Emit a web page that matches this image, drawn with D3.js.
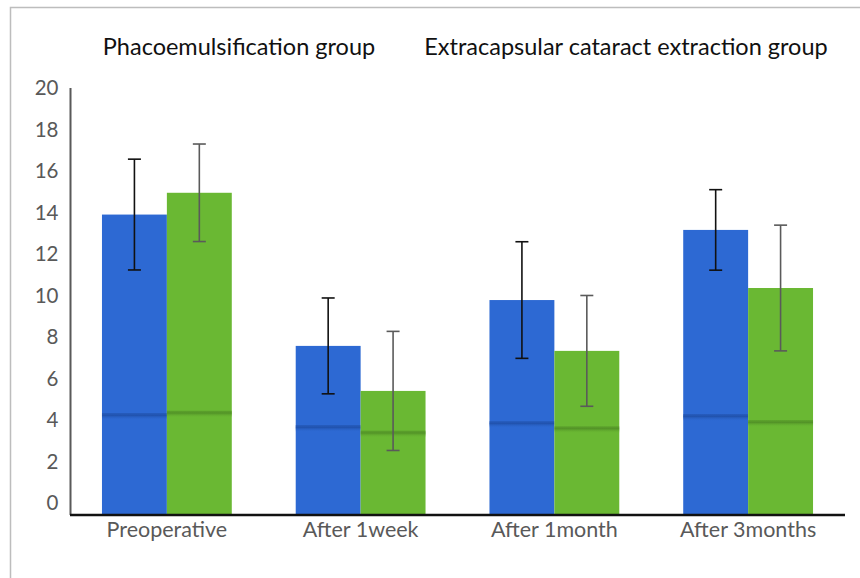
<!DOCTYPE html>
<html>
<head>
<meta charset="utf-8">
<script src="https://cdn.jsdelivr.net/npm/d3@7"></script>
<style>
  body { margin: 0; background: #fff; }
  svg { display: block; font-family: Lato, "Open Sans", sans-serif; }
</style>
</head>
<body>
<div id="chart"></div>
<script>
const categories = ["Preoperative", "After 1week", "After 1month", "After 3months"];
const groups = ["Phacoemulsification group", "Extracapsular cataract extraction group"];
const phacoMean = [13.9, 7.57, 9.78, 13.16];
const phacoSD = [2.67, 2.31, 2.81, 1.94];
const ecceMean = [14.95, 5.4, 7.33, 10.36];
const ecceSD = [2.35, 2.87, 2.67, 3.03];
// darker shading band inside each bar
const phacoBand = [4.24, 3.66, 3.85, 4.19];
const ecceBand = [4.35, 3.39, 3.6, 3.9];
const yTicks = [0, 2, 4, 6, 8, 10, 12, 14, 16, 18, 20];

const width = 860, height = 578;
const colors = ["#2d69d3", "#6ab833"];
const darker = ["#1f4fa8", "#4f8d25"];
const errColors = ["#111111", "#5a5a5a"];

const svg = d3.select("#chart").append("svg")
  .attr("width", width)
  .attr("height", height);

// frame
svg.append("rect")
  .attr("x", 10.5).attr("y", 7.5)
  .attr("width", 900).attr("height", 700)
  .attr("fill", "none")
  .attr("stroke", "#bdbdbd")
  .attr("stroke-width", 1.5);

const x0 = d3.scaleBand()
  .domain(categories)
  .range([70, 845])
  .paddingInner(0.33)
  .paddingOuter(0.165);

const x1 = d3.scaleBand()
  .domain([0, 1])
  .range([0, x0.bandwidth()]);

// value 0 sits a little above the axis line, as in the original
const y = d3.scaleLinear()
  .domain([-0.58, 20])
  .range([515, 88]);

const data = categories.map((c, i) => [
  { cat: c, s: 0, mean: phacoMean[i], sd: phacoSD[i], band: phacoBand[i] },
  { cat: c, s: 1, mean: ecceMean[i], sd: ecceSD[i], band: ecceBand[i] },
]);

// gradients for the shading band
const defs = svg.append("defs");
[0, 1].forEach((s) => {
  const g = defs.append("linearGradient")
    .attr("id", "band" + s)
    .attr("x1", 0).attr("y1", 0).attr("x2", 0).attr("y2", 1);
  g.append("stop").attr("offset", "0%").attr("stop-color", darker[s]).attr("stop-opacity", 0.5);
  g.append("stop").attr("offset", "35%").attr("stop-color", darker[s]).attr("stop-opacity", 0.85);
  g.append("stop").attr("offset", "100%").attr("stop-color", colors[s]).attr("stop-opacity", 0);
});

const grp = svg.append("g")
  .selectAll("g")
  .data(data)
  .enter()
  .append("g")
  .attr("transform", (d) => `translate(${x0(d[0].cat)},0)`);

const bars = grp.selectAll("g.bar")
  .data((d) => d)
  .enter()
  .append("g")
  .attr("class", "bar");

bars.append("rect")
  .attr("x", (d) => x1(d.s))
  .attr("y", (d) => y(d.mean))
  .attr("width", x1.bandwidth())
  .attr("height", (d) => y(y.domain()[0]) - y(d.mean))
  .attr("fill", (d) => colors[d.s]);

bars.append("rect")
  .attr("x", (d) => x1(d.s))
  .attr("y", (d) => y(d.band) - 2)
  .attr("width", x1.bandwidth())
  .attr("height", 7)
  .attr("fill", (d) => `url(#band${d.s})`);

// error bars
const cap = 6.5;
bars.append("line")
  .attr("x1", (d) => x1(d.s) + x1.bandwidth() / 2)
  .attr("x2", (d) => x1(d.s) + x1.bandwidth() / 2)
  .attr("y1", (d) => y(d.mean + d.sd))
  .attr("y2", (d) => y(d.mean - d.sd))
  .attr("stroke", (d) => errColors[d.s])
  .attr("stroke-width", 1.6);

[1, -1].forEach((sign) => {
  bars.append("line")
    .attr("x1", (d) => x1(d.s) + x1.bandwidth() / 2 - cap)
    .attr("x2", (d) => x1(d.s) + x1.bandwidth() / 2 + cap)
    .attr("y1", (d) => y(d.mean + sign * d.sd))
    .attr("y2", (d) => y(d.mean + sign * d.sd))
    .attr("stroke", (d) => errColors[d.s])
    .attr("stroke-width", 1.6);
});

// y axis
const yAxis = svg.append("g")
  .attr("transform", "translate(70.5,0)")
  .call(d3.axisLeft(y).tickValues(yTicks).tickSize(0).tickPadding(12));
yAxis.select(".domain")
  .attr("d", `M0,${y(20)}V${y(y.domain()[0])}`)
  .attr("stroke", "#595959")
  .attr("stroke-width", 2);
yAxis.selectAll("text")
  .attr("fill", "#595959")
  .style("font-size", "20.5px")
  .style("font-family", "Lato, sans-serif");

// x axis
const xAxis = svg.append("g")
  .attr("transform", `translate(0,${y(y.domain()[0])})`)
  .call(d3.axisBottom(x0).tickSize(0).tickPadding(7));
xAxis.select(".domain")
  .attr("d", "M70,0H845")
  .attr("stroke", "#111")
  .attr("stroke-width", 2.5);
xAxis.selectAll("text")
  .attr("fill", "#595959")
  .style("font-size", "21.5px")
  .style("font-family", "Lato, sans-serif");

// group titles
const titleX = [239, 626];
svg.selectAll("text.title")
  .data(groups)
  .enter()
  .append("text")
  .attr("class", "title")
  .attr("x", (d, i) => titleX[i])
  .attr("y", 55)
  .attr("text-anchor", "middle")
  .attr("fill", "#111")
  .style("font-size", "23.5px")
  .text((d) => d);
</script>
</body>
</html>
